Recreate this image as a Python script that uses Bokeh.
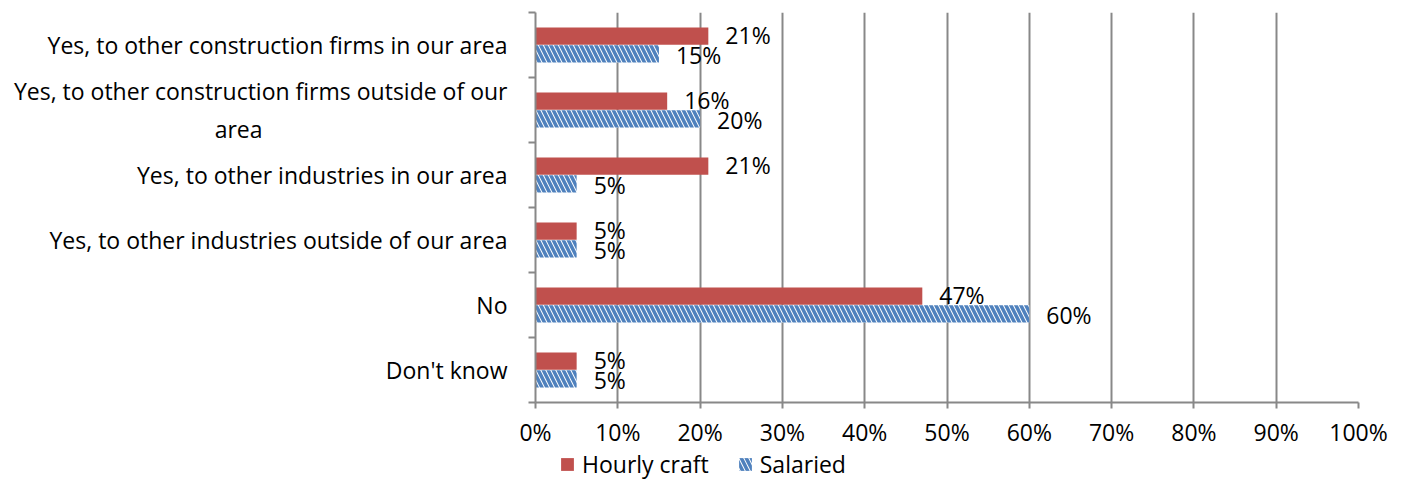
from bokeh.plotting import figure
from bokeh.layouts import column
from bokeh.models import (Range1d, LinearAxis, FixedTicker,
                          PrintfTickFormatter, ColumnDataSource, Legend, LegendItem)
from bokeh.core.properties import value
from bokeh.transform import dodge
from bokeh.embed import file_html
from bokeh.resources import INLINE

categories = [
    "Yes, to other construction firms in our area",
    "Yes, to other construction firms outside of our\narea",
    "Yes, to other industries in our area",
    "Yes, to other industries outside of our area",
    "No",
    "Don't know",
]
hourly = [21, 16, 21, 5, 47, 5]
salaried = [15, 20, 5, 5, 60, 5]
x_ticks = [0, 10, 20, 30, 40, 50, 60, 70, 80, 90, 100]
series_names = ["Hourly craft", "Salaried"]

FONT = "Open Sans"
FS = "23px"
GRAY = "#888888"
RED = "#C0504D"
BLUE = "#4F81BD"
N = len(categories)
W = 1391

# band centre of each category (top category at the top)
ypos = [N - i - 0.5 for i in range(N)]


def centred(label, pad_per_char=0.95):
    """Centre the lines of a wrapped label (the axis right-aligns them) with no-break spaces."""
    lines = label.split("\n")
    longest = max(len(l) for l in lines)
    out = []
    for l in lines:
        pad = int(round((longest - len(l)) * pad_per_char))
        out.append(l + "\u00a0" * pad)
    return "\n".join(out)


src = ColumnDataSource(dict(
    y=ypos, hourly=hourly, salaried=salaried,
    hl=[f"{v}%" for v in hourly], sl=[f"{v}%" for v in salaried],
))

red_style = dict(fill_color=RED, line_color=None)
blue_style = dict(fill_color="white", line_color=None, hatch_pattern="\\",
                  hatch_color=BLUE, hatch_scale=10, hatch_weight=3.5)

p = figure(width=W, height=450, output_backend="svg", toolbar_location=None,
           y_range=Range1d(0, N), x_range=Range1d(0, 100), y_axis_location=None,
           min_border_left=535, min_border_right=33, min_border_top=12, min_border_bottom=44)
p.outline_line_color = None
p.ygrid.grid_line_color = None
p.xgrid.grid_line_color = GRAY
p.xgrid.grid_line_width = 2
p.xgrid.ticker = FixedTicker(ticks=x_ticks)

xa = p.xaxis[0]
xa.ticker = FixedTicker(ticks=x_ticks)
xa.formatter = PrintfTickFormatter(format="%d%%")
xa.axis_line_color = GRAY
xa.axis_line_width = 2
xa.major_tick_line_color = GRAY
xa.major_tick_line_width = 2
xa.major_tick_out = 6
xa.major_tick_in = 0
xa.minor_tick_line_color = None
xa.major_label_standoff = 7
xa.major_label_text_font = FONT
xa.major_label_text_font_size = FS
xa.major_label_text_color = "black"

tick_axis = LinearAxis(ticker=FixedTicker(ticks=list(range(N + 1))),
                       major_label_text_font_size="0px", major_label_standoff=0,
                       major_tick_out=7, major_tick_in=0, minor_tick_line_color=None,
                       axis_line_color=GRAY, axis_line_width=2,
                       major_tick_line_color=GRAY, major_tick_line_width=2)
p.add_layout(tick_axis, "left")
cat_axis = LinearAxis(ticker=FixedTicker(ticks=ypos),
                      major_label_overrides={y: centred(c) for y, c in zip(ypos, categories)},
                      axis_line_color=None, major_tick_line_color=None, minor_tick_line_color=None,
                      major_tick_out=0, major_tick_in=0, major_label_standoff=21,
                      major_label_text_font=FONT, major_label_text_font_size=FS,
                      major_label_text_color="black")
p.add_layout(cat_axis, "left")

p.hbar(y=dodge("y", 0.135), right="hourly", left=0, height=0.265, source=src, **red_style)
p.hbar(y=dodge("y", -0.135), right="salaried", left=0, height=0.265, source=src, **blue_style)

p.text(x="hourly", y=dodge("y", 0.15), text="hl", source=src,
       x_offset=17, text_align="left", text_baseline="middle",
       text_font=value(FONT), text_font_size=value(FS), text_color="black")
p.text(x="salaried", y=dodge("y", -0.15), text="sl", source=src,
       x_offset=17, text_align="left", text_baseline="middle",
       text_font=value(FONT), text_font_size=value(FS), text_color="black")

# legend strip underneath the chart (its frame is aligned with the chart's frame);
# the proxy bars share the data but lie outside this strip's visible y range
lg = figure(width=W, height=30, output_backend="svg", toolbar_location=None,
            x_range=Range1d(0, 100), y_range=Range1d(100, 101),
            x_axis_location=None, y_axis_location=None,
            min_border_left=0, min_border_right=0, min_border_top=0, min_border_bottom=0)
lg.outline_line_color = None
lg.xgrid.grid_line_color = None
lg.ygrid.grid_line_color = None
k1 = lg.hbar(y="y", right="hourly", left=0, height=0.265, source=src, **red_style)
k2 = lg.hbar(y="y", right="salaried", left=0, height=0.265, source=src, **blue_style)
legend = Legend(items=[LegendItem(label=series_names[0], renderers=[k1], index=0),
                       LegendItem(label=series_names[1], renderers=[k2], index=0)],
                orientation="horizontal", location=(24, 0), padding=0, margin=0,
                border_line_color=None, background_fill_alpha=0,
                glyph_width=16, glyph_height=16, spacing=28, label_standoff=7,
                label_text_font=FONT, label_text_font_size=FS, label_text_color="black")
lg.add_layout(legend, "center")

layout = column(p, lg, spacing=0)
open("out.html", "w").write(file_html(layout, INLINE))
